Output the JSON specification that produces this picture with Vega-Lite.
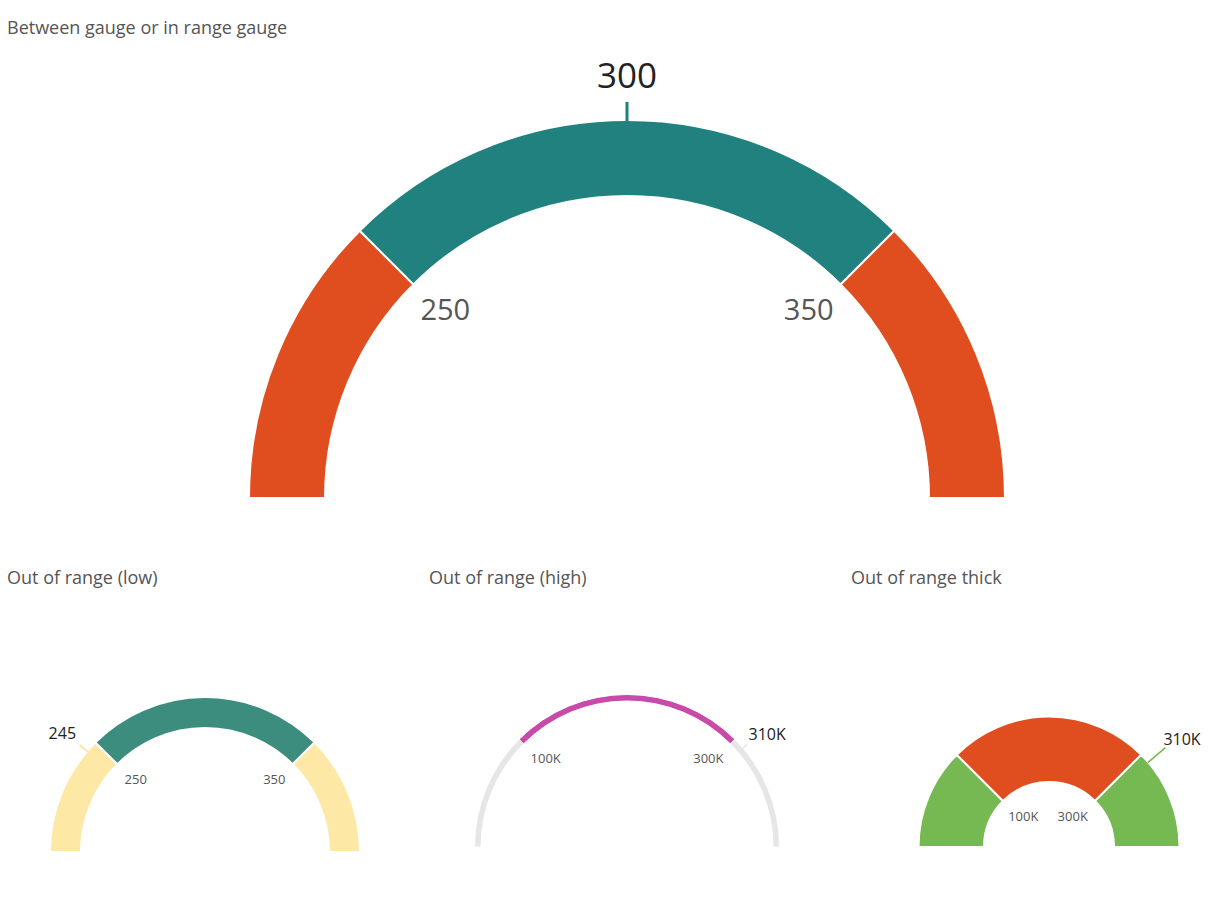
{
  "$schema": "https://vega.github.io/schema/vega-lite/v6.json",
  "padding": {"left": 7, "top": 20, "right": 0, "bottom": 0},
  "background": "white",
  "config": {
    "view": {"stroke": null},
    "font": "Open Sans",
    "title": {"anchor": "start", "fontSize": 18, "fontWeight": "normal", "color": "#555555", "frame": "group", "dx": -33, "font": "Open Sans"}
  },
  "datasets": {
    "g1_bands": [
      {"start": 200, "end": 250, "zone": "below"},
      {"start": 250, "end": 350, "zone": "within"},
      {"start": 350, "end": 400, "zone": "above"}
    ],
    "g1_ticks": [{"value": 250, "label": "250"}, {"value": 350, "label": "350"}],
    "g1_marker": [{"value": 300, "label": "300", "zone": "within"}],
    "g2_bands": [
      {"start": 200, "end": 250, "zone": "below"},
      {"start": 250, "end": 350, "zone": "within"},
      {"start": 350, "end": 400, "zone": "above"}
    ],
    "g2_ticks": [{"value": 250, "label": "250"}, {"value": 350, "label": "350"}],
    "g2_marker": [{"value": 245, "label": "245", "zone": "below"}],
    "g3_bands": [
      {"start": 0, "end": 100000, "zone": "below"},
      {"start": 100000, "end": 300000, "zone": "within"},
      {"start": 300000, "end": 400000, "zone": "above"}
    ],
    "g3_ticks": [{"value": 100000, "label": "100K"}, {"value": 300000, "label": "300K"}],
    "g3_marker": [{"value": 310000, "label": "310K", "zone": "above"}],
    "g4_bands": [
      {"start": 0, "end": 100000, "zone": "below"},
      {"start": 100000, "end": 300000, "zone": "within"},
      {"start": 300000, "end": 400000, "zone": "above"}
    ],
    "g4_ticks": [{"value": 100000, "label": "100K"}, {"value": 300000, "label": "300K"}],
    "g4_marker": [{"value": 310000, "label": "310K", "zone": "above"}]
  },
  "resolve": {"scale": {"color": "independent", "stroke": "independent", "theta": "independent"}},
  "spacing": 68,
  "vconcat": [
    {
      "title": "Between gauge or in range gauge",
      "width": 1174,
      "height": 456,
      "layer": [
        {
          "data": {"name": "g1_bands"},
          "mark": {"type": "arc", "radius": 378, "radius2": 302, "stroke": "white", "strokeWidth": 2, "y": "height"},
          "encoding": {
            "theta": {"field": "start", "type": "quantitative", "stack": null, "scale": {"domain": [200, 400], "range": [-1.5707963, 1.5707963]}},
            "theta2": {"field": "end"},
            "color": {"field": "zone", "type": "nominal", "legend": null, "scale": {"domain": ["below", "within", "above"], "range": ["#E04E1F", "#20817F", "#E04E1F"]}}
          }
        },
        {
          "data": {"name": "g1_marker"},
          "mark": {"type": "arc", "radius": 396, "radius2": 377, "strokeWidth": 3, "fillOpacity": 0, "y": "height"},
          "encoding": {
            "theta": {"field": "value", "type": "quantitative", "stack": null, "scale": {"domain": [200, 400], "range": [-1.5707963, 1.5707963]}},
            "theta2": {"field": "value"},
            "stroke": {"field": "zone", "type": "nominal", "legend": null, "scale": {"domain": ["below", "within", "above"], "range": ["#E04E1F", "#20817F", "#E04E1F"]}}
          }
        },
        {
          "data": {"name": "g1_ticks"},
          "mark": {"type": "text", "radius": 257, "dy": -5, "fontSize": 29, "color": "#555555", "align": "center", "baseline": "middle", "y": "height"},
          "encoding": {
            "theta": {"field": "value", "type": "quantitative", "scale": {"domain": [200, 400], "range": [-1.5707963, 1.5707963]}},
            "text": {"field": "label"}
          }
        },
        {
          "data": {"name": "g1_marker"},
          "mark": {"type": "text", "radius": 421, "fontSize": 35, "color": "#222222", "align": "center", "baseline": "middle", "y": "height"},
          "encoding": {
            "theta": {"field": "value", "type": "quantitative", "scale": {"domain": [200, 400], "range": [-1.5707963, 1.5707963]}},
            "text": {"field": "label"}
          }
        }
      ]
    },
    {
      "hconcat": [
        {
          "title": "Out of range (low)",
          "width": 330,
          "height": 260,
          "layer": [
            {
              "data": {"name": "g2_bands"},
              "mark": {"type": "arc", "radius": 155, "radius2": 124, "stroke": "white", "strokeWidth": 2, "y": "height"},
              "encoding": {
                "theta": {"field": "start", "type": "quantitative", "stack": null, "scale": {"domain": [200, 400], "range": [-1.5707963, 1.5707963]}},
                "theta2": {"field": "end"},
                "color": {"field": "zone", "type": "nominal", "legend": null, "scale": {"domain": ["below", "within", "above"], "range": ["#FDE8A5", "#3C8D7D", "#FDE8A5"]}}
              }
            },
            {
              "data": {"name": "g2_marker"},
              "mark": {"type": "arc", "radius": 165, "radius2": 154, "strokeWidth": 2, "fillOpacity": 0, "y": "height"},
              "encoding": {
                "theta": {"field": "value", "type": "quantitative", "stack": null, "scale": {"domain": [200, 400], "range": [-1.5707963, 1.5707963]}},
                "theta2": {"field": "value"},
                "stroke": {"field": "zone", "type": "nominal", "legend": null, "scale": {"domain": ["below", "within", "above"], "range": ["#FDE8A5", "#3C8D7D", "#FDE8A5"]}}
              }
            },
            {
              "data": {"name": "g2_ticks"},
              "mark": {"type": "text", "radius": 98, "dy": -3, "fontSize": 13, "color": "#555555", "align": "center", "baseline": "middle", "y": "height"},
              "encoding": {
                "theta": {"field": "value", "type": "quantitative", "scale": {"domain": [200, 400], "range": [-1.5707963, 1.5707963]}},
                "text": {"field": "label"}
              }
            },
            {
              "data": {"name": "g2_marker"},
              "mark": {"type": "text", "radius": 185, "dx": -2, "dy": 2, "fontSize": 16, "color": "#222222", "align": "center", "baseline": "middle", "y": "height"},
              "encoding": {
                "theta": {"field": "value", "type": "quantitative", "scale": {"domain": [200, 400], "range": [-1.5707963, 1.5707963]}},
                "text": {"field": "label"}
              }
            }
          ]
        },
        {
          "title": "Out of range (high)",
          "width": 330,
          "height": 255,
          "layer": [
            {
              "data": {"name": "g3_bands"},
              "mark": {"type": "arc", "radius": 152.5, "radius2": 146, "stroke": "white", "strokeWidth": 1, "y": "height"},
              "encoding": {
                "theta": {"field": "start", "type": "quantitative", "stack": null, "scale": {"domain": [0, 400000], "range": [-1.5707963, 1.5707963]}},
                "theta2": {"field": "end"},
                "color": {"field": "zone", "type": "nominal", "legend": null, "scale": {"domain": ["below", "within", "above"], "range": ["#E6E6E6", "#C94BA9", "#E6E6E6"]}}
              }
            },
            {
              "data": {"name": "g3_marker"},
              "mark": {"type": "arc", "radius": 158, "radius2": 152, "strokeWidth": 1.5, "fillOpacity": 0, "y": "height"},
              "encoding": {
                "theta": {"field": "value", "type": "quantitative", "stack": null, "scale": {"domain": [0, 400000], "range": [-1.5707963, 1.5707963]}},
                "theta2": {"field": "value"},
                "stroke": {"field": "zone", "type": "nominal", "legend": null, "scale": {"domain": ["below", "within", "above"], "range": ["#E6E6E6", "#C94BA9", "#E6E6E6"]}}
              }
            },
            {
              "data": {"name": "g3_ticks"},
              "mark": {"type": "text", "radius": 115, "dy": -7, "fontSize": 13, "color": "#555555", "align": "center", "baseline": "middle", "y": "height"},
              "encoding": {
                "theta": {"field": "value", "type": "quantitative", "scale": {"domain": [0, 400000], "range": [-1.5707963, 1.5707963]}},
                "text": {"field": "label"}
              }
            },
            {
              "data": {"name": "g3_marker"},
              "mark": {"type": "text", "radius": 179, "dx": 4, "dy": 4, "fontSize": 16, "color": "#222222", "align": "center", "baseline": "middle", "y": "height"},
              "encoding": {
                "theta": {"field": "value", "type": "quantitative", "scale": {"domain": [0, 400000], "range": [-1.5707963, 1.5707963]}},
                "text": {"field": "label"}
              }
            }
          ]
        },
        {
          "title": "Out of range thick",
          "width": 330,
          "height": 255,
          "layer": [
            {
              "data": {"name": "g4_bands"},
              "mark": {"type": "arc", "radius": 130.5, "radius2": 65, "stroke": "white", "strokeWidth": 2, "y": "height"},
              "encoding": {
                "theta": {"field": "start", "type": "quantitative", "stack": null, "scale": {"domain": [0, 400000], "range": [-1.5707963, 1.5707963]}},
                "theta2": {"field": "end"},
                "color": {"field": "zone", "type": "nominal", "legend": null, "scale": {"domain": ["below", "within", "above"], "range": ["#76B852", "#E04E1F", "#76B852"]}}
              }
            },
            {
              "data": {"name": "g4_marker"},
              "mark": {"type": "arc", "radius": 153, "radius2": 130, "strokeWidth": 1.5, "fillOpacity": 0, "y": "height"},
              "encoding": {
                "theta": {"field": "value", "type": "quantitative", "stack": null, "scale": {"domain": [0, 400000], "range": [-1.5707963, 1.5707963]}},
                "theta2": {"field": "value"},
                "stroke": {"field": "zone", "type": "nominal", "legend": null, "scale": {"domain": ["below", "within", "above"], "range": ["#76B852", "#E04E1F", "#76B852"]}}
              }
            },
            {
              "data": {"name": "g4_ticks"},
              "mark": {"type": "text", "radius": 35, "dx": -1, "dy": -5, "fontSize": 13, "color": "#555555", "align": "center", "baseline": "middle", "y": "height"},
              "encoding": {
                "theta": {"field": "value", "type": "quantitative", "scale": {"domain": [0, 400000], "range": [-1.5707963, 1.5707963]}},
                "text": {"field": "label"}
              }
            },
            {
              "data": {"name": "g4_marker"},
              "mark": {"type": "text", "radius": 171, "dx": 3, "dy": 4, "fontSize": 16, "color": "#222222", "align": "center", "baseline": "middle", "y": "height"},
              "encoding": {
                "theta": {"field": "value", "type": "quantitative", "scale": {"domain": [0, 400000], "range": [-1.5707963, 1.5707963]}},
                "text": {"field": "label"}
              }
            }
          ]
        }
      ],
      "spacing": 59,
      "resolve": {"scale": {"color": "independent", "stroke": "independent", "theta": "independent"}}
    }
  ]
}
